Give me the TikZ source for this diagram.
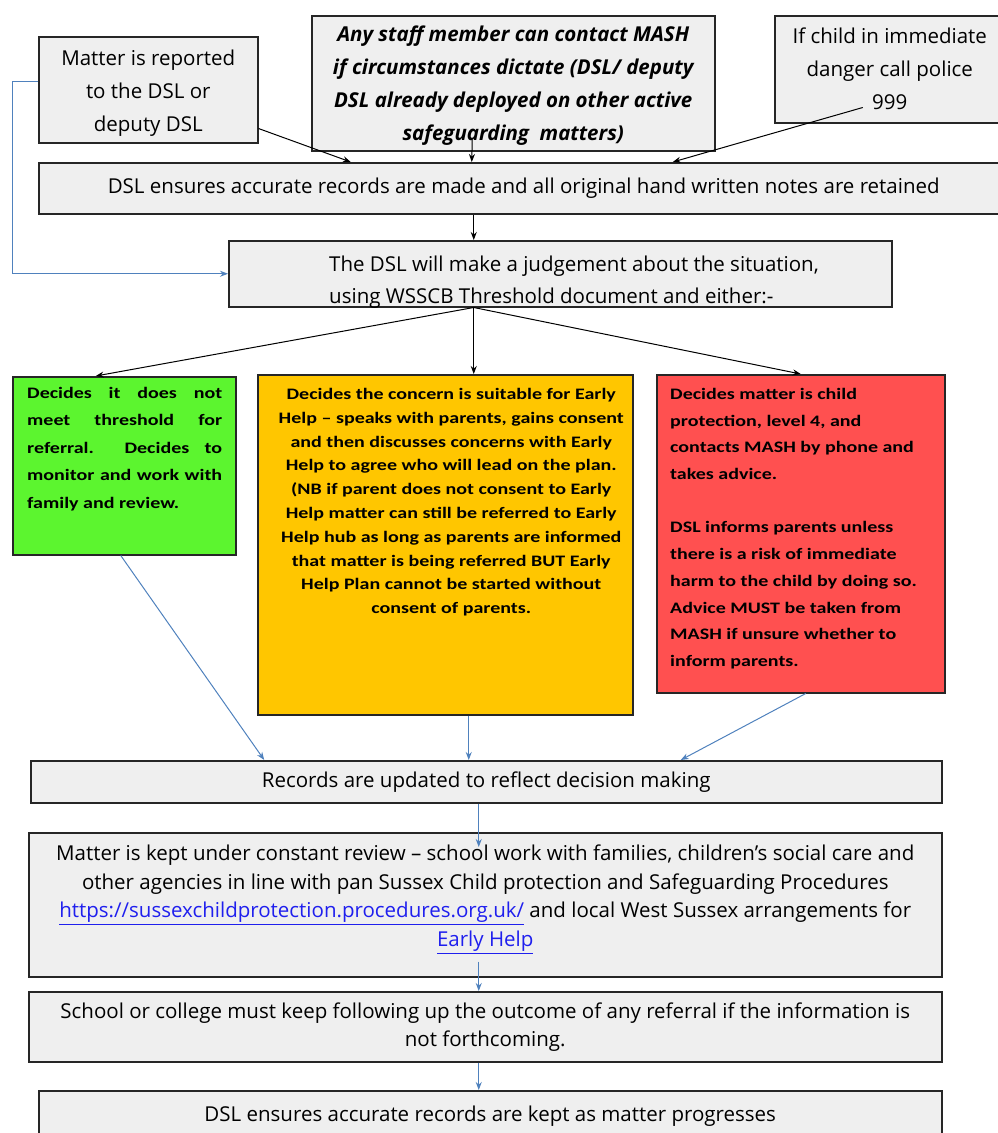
\documentclass[tikz,border=0pt]{standalone}
\usepackage{fontspec}
\setmainfont{Open Sans}
\newfontfamily\calibri[FakeStretch=1.25,Ligatures=TeX]{Carlito}
\usetikzlibrary{arrows.meta}

\definecolor{boxfill}{HTML}{EFEFEF}
\definecolor{boxline}{HTML}{262626}
\definecolor{flowblue}{HTML}{4F81BD}
\definecolor{lowgreen}{HTML}{5CF52F}
\definecolor{helpyellow}{HTML}{FFC600}
\definecolor{cpred}{HTML}{FF5050}
\definecolor{linkblue}{HTML}{1F1FEE}

\begin{document}
\begin{tikzpicture}[
  x=1pt, y=-1pt,
  greybox/.style={
    draw=boxline,
    fill=boxfill,
    line width=1.5pt,
    anchor=north west,
    inner sep=0pt,
    align=center,
    font=\fontsize{20.5}{33}\selectfont
  },
  colourbox/.style={
    draw=boxline,
    line width=1.5pt,
    anchor=north west,
    inner sep=0pt
  },
  boxtext/.style={
    inner sep=0pt,
    anchor=north west,
    font=\calibri\bfseries\fontsize{16}{23.8}\selectfont
  },
  flow/.style={
    -{Stealth[length=8pt,width=6pt]},
    line width=1pt,
    black
  },
  blueflow/.style={
    -{Stealth[length=8pt,width=6pt]},
    line width=1pt,
    flowblue
  },
]
\useasboundingbox (0,0) rectangle (997,1133);

% top row
\node[greybox, minimum width=219pt, minimum height=106pt] (report) at (38,36)
  {\rule{0pt}{23pt}Matter is reported\\to the DSL or\\deputy DSL};
\node[greybox, minimum width=403pt, minimum height=135pt] (mash) at (311,15) {};
\node[inner sep=0pt, anchor=north, align=center,
  font=\bfseries\itshape\fontsize{20.5}{33}\selectfont] (mashtext)
  at ([yshift=-11pt]mash.north)
  {Any staff member can contact MASH\\if circumstances dictate (DSL/ deputy\\DSL already deployed on other active\\safeguarding\ \ matters)};
\node[greybox, minimum width=230pt, minimum height=107pt] (police) at (774,15)
  {If child in immediate\\danger call police\\999};

\node[greybox, minimum width=970pt, minimum height=51pt] (records) at (38,162)
  {DSL ensures accurate records are made and all original hand written notes are retained};

\node[greybox, minimum width=663pt, minimum height=66pt] (judge) at (228,240) {};
\node[inner sep=0pt, anchor=west, align=left, font=\fontsize{20.5}{32}\selectfont] (judgetext)
  at (329,282) {The DSL will make a judgement about the situation,\\using WSSCB Threshold document and either:-};

% the three decisions
\node[colourbox, fill=lowgreen, minimum width=223pt, minimum height=178pt] (low) at (12,376) {};
\node[boxtext, align=left, font=\calibri\bfseries\fontsize{16}{27.5}\selectfont] (lowtext)
  at ([xshift=15pt,yshift=-11pt]low.north west)
  {\makebox[195pt][s]{Decides it does not}\\
   \makebox[195pt][s]{meet threshold for}\\
   \makebox[195pt][s]{referral.\ \ Decides to}\\
   \makebox[195pt][s]{monitor and work with}\\
   family and review.};

\node[colourbox, fill=helpyellow, minimum width=375pt, minimum height=340pt] (help) at (257,374) {};
\node[boxtext, anchor=north, align=center] (helptext)
  at ([xshift=6pt,yshift=-14pt]help.north)
  {Decides the concern is suitable for Early\\
   Help -- speaks with parents, gains consent\\
   and then discusses concerns with Early\\
   Help to agree who will lead on the plan.\\
   (NB if parent does not consent to Early\\
   Help matter can still be referred to Early\\
   Help hub as long as parents are informed\\
   that matter is being referred BUT Early\\
   Help Plan cannot be started without\\
   consent of parents.};

\node[colourbox, fill=cpred, minimum width=288pt, minimum height=318pt] (cp) at (656,374) {};
\node[boxtext, align=left, font=\calibri\bfseries\fontsize{16}{26.7}\selectfont] (cptext)
  at ([xshift=14pt,yshift=-14pt]cp.north west)
  {Decides matter is child\\
   protection, level 4, and\\
   contacts MASH by phone and\\
   takes advice.\\[26.7pt]
   DSL informs parents unless\\
   there is a risk of immediate\\
   harm to the child by doing so.\\
   Advice MUST be taken from\\
   MASH if unsure whether to\\
   inform parents.};

% follow up
\node[greybox, minimum width=911pt, minimum height=42pt] (update) at (30,760)
  {Records are updated to reflect decision making};
\node[greybox, minimum width=913pt, minimum height=144pt] (review) at (28,832) {};
\node[inner sep=0pt, anchor=north, align=center, font=\fontsize{20.5}{28.5}\selectfont] (reviewtext)
  at ([yshift=-13pt]review.north)
  {Matter is kept under constant review -- school work with families, children's social care and\\
   other agencies in line with pan Sussex Child protection and Safeguarding Procedures\\
   \textcolor{linkblue}{\underline{https://sussexchildprotection.procedures.org.uk/}} and local West Sussex arrangements for\\
   \textcolor{linkblue}{\underline{Early Help}}};
\node[greybox, minimum width=913pt, minimum height=70pt, font=\fontsize{20.5}{28}\selectfont] (school) at (28,991)
  {School or college must keep following up the outcome of any referral if the information is\\not forthcoming.};
\node[greybox, minimum width=903pt, minimum height=50pt] (final) at (38,1090)
  {DSL ensures accurate records are kept as matter progresses};

% black connectors
\draw[flow] ([yshift=15pt]report.south east) -- ([xshift=-173pt]records.north);
\draw[flow] ([xshift=-41pt,yshift=12pt]mash.south) -- ([xshift=-52pt]records.north);
\draw[flow] ([xshift=-27pt,yshift=16pt]police.south) -- ([xshift=149pt]records.north);
\draw[flow] ([xshift=-50pt]records.south) -- ([xshift=-86.5pt]judge.north);
\coordinate (split) at ([xshift=-86.5pt]judge.south);
\draw[flow] (split) -- ([xshift=-28.5pt]low.north);
\draw[flow] (split) -- ([xshift=28.5pt]help.north);
\draw[flow] (split) -- (cp.north);

% blue connectors
\draw[blueflow] ([yshift=8pt]report.west) -- ++(-26,0) |- (judge.west);
\draw[blueflow] ([xshift=-3.5pt]low.south) -- ([xshift=-222pt]update.north);
\draw[blueflow] ([xshift=23.5pt]help.south) -- ([xshift=-17.5pt]update.north);
\draw[blueflow] ([xshift=5pt]cp.south) -- ([xshift=194.5pt]update.north);
\draw[blueflow] ([xshift=-7.5pt]update.south) -- ([xshift=-6.5pt,yshift=-15pt]review.north);
\draw[blueflow] ([xshift=-6.5pt,yshift=16pt]review.south) -- ([xshift=-6.5pt]school.north);
\draw[blueflow] ([xshift=-6.5pt]school.south) -- ([xshift=-11.5pt]final.north);
\end{tikzpicture}
\end{document}
